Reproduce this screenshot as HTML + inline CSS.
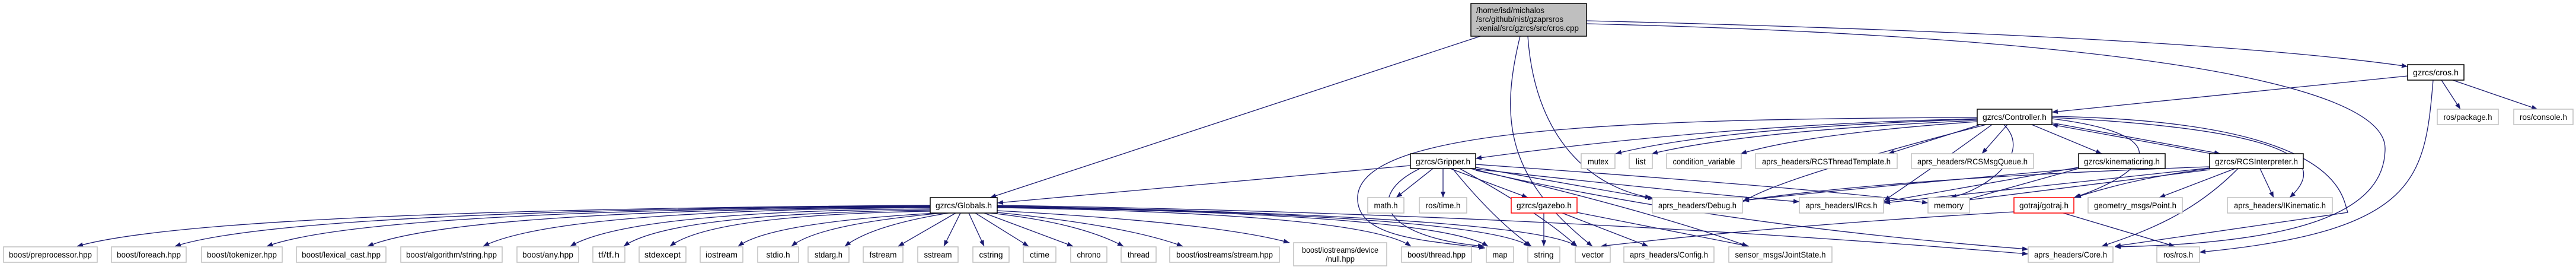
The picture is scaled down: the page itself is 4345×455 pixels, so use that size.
<!DOCTYPE html>
<html><head><meta charset="utf-8"><style>
html,body{margin:0;padding:0;background:#fff;width:4345px;height:455px;overflow:hidden}
svg{display:block}
text{font-family:"Liberation Sans",Arial,sans-serif;font-size:14px;fill:#000}
.e{fill:none;stroke:#191970;stroke-width:1.3}
.g rect{fill:#fff;stroke:#bfbfbf;stroke-width:1.5}
.b rect{fill:#fff;stroke:#000;stroke-width:1.5}
.r rect{fill:#fff;stroke:#ff0000;stroke-width:1.5}
</style></head><body>
<svg width="4345" height="455" viewBox="0 0 4345 455" xmlns="http://www.w3.org/2000/svg">
<defs><marker id="a" viewBox="0 0 10 8" refX="10" refY="4" markerWidth="10" markerHeight="8" markerUnits="userSpaceOnUse" orient="auto"><path d="M0,0 L10,4 L0,8 z" fill="#191970"/></marker></defs>
<g marker-end="url(#a)">
<!-- cpp edges -->
<path class="e" d="M2497,61 L1670,333"/>
<path class="e" d="M2676,35 Q3700,60 4061,112"/>
<path class="e" d="M2676,40 C3500,60 4023,130 4023,250 C4023,350 3900,410 3567,416"/>
<path class="e" d="M2564,61 C2530,200 2540,300 2686,415"/>
<path class="e" d="M2577,61 C2590,250 2700,320 2785,333"/>
<!-- Globals edges -->
<path class="e" d="M1569,346 Q346,354 130,415"/>
<path class="e" d="M1569,347 Q486,354 295,415"/>
<path class="e" d="M1569,348 Q618,354 450,415"/>
<path class="e" d="M1569,349 Q771,354 620,415"/>
<path class="e" d="M1569,350 Q937,354 815,415"/>
<path class="e" d="M1569,352 Q1062,356 962,415"/>
<path class="e" d="M1569,354 Q1130,360 1052,415"/>
<path class="e" d="M1569,356 Q1200,362 1130,415"/>
<path class="e" d="M1580,359 Q1300,375 1245,415"/>
<path class="e" d="M1590,359 Q1380,378 1335,415"/>
<path class="e" d="M1600,359 Q1470,380 1425,415"/>
<path class="e" d="M1612,359 L1515,415"/>
<path class="e" d="M1620,359 L1592,415"/>
<path class="e" d="M1634,359 L1660,415"/>
<path class="e" d="M1645,359 L1735,415"/>
<path class="e" d="M1660,359 L1810,415"/>
<path class="e" d="M1670,359 Q1820,375 1895,415"/>
<path class="e" d="M1682,358 Q1900,380 1995,415"/>
<path class="e" d="M1682,355 Q2050,375 2175,409"/>
<path class="e" d="M1682,350 Q2300,360 2380,415"/>
<path class="e" d="M1682,349 Q2420,360 2510,415"/>
<path class="e" d="M1682,348 Q2500,362 2580,415"/>
<path class="e" d="M1682,347 Q2580,364 2660,415"/>
<path class="e" d="M1682,346 Q2600,360 3421,428"/>
<!-- Gripper edges -->
<path class="e" d="M2379,279 L1682,342"/>
<path class="e" d="M2417,284 L2355,333"/>
<path class="e" d="M2434,284 L2434,333"/>
<path class="e" d="M2446,284 L2577,333"/>
<path class="e" d="M2489,282 Q2700,320 2790,335"/>
<path class="e" d="M2489,285 Q2900,330 3035,340"/>
<path class="e" d="M2489,277 Q3100,320 3252,342"/>
<path class="e" d="M2395,284 C2300,330 2330,400 2503,415"/>
<path class="e" d="M2450,284 Q2520,370 2583,415"/>
<path class="e" d="M2462,284 Q2600,360 2660,415"/>
<path class="e" d="M2489,287 Q2900,380 3421,420"/>
<path class="e" d="M2480,284 Q2800,360 2948,415"/>
<!-- gazebo -->
<path class="e" d="M2604,359 L2604,415"/>
<path class="e" d="M2635,359 L2780,415"/>
<path class="e" d="M2660,358 L2950,415"/>
<!-- Controller -->
<path class="e" d="M3335,200 Q2900,210 2489,267"/>
<path class="e" d="M3335,201 Q2900,215 2725,259"/>
<path class="e" d="M3335,203 Q2950,220 2786,259"/>
<path class="e" d="M3335,205 Q3050,225 2936,259"/>
<path class="e" d="M3340,210 L3185,259"/>
<path class="e" d="M3386,210 L3343,259"/>
<path class="e" d="M3427,210 L3545,259"/>
<path class="e" d="M3461,207 L3745,259"/>
<path class="e" d="M3730,259 L3461,210"/>
<path class="e" d="M3335,198 C2700,200 2300,220 2290,330 C2285,400 2400,405 2505,418"/>
<path class="e" d="M3350,210 Q3000,300 2940,340"/>
<path class="e" d="M3360,210 Q3250,290 3178,338"/>
<path class="e" d="M3380,210 C3430,260 3350,320 3290,333"/>
<path class="e" d="M3461,200 C3700,230 3600,300 3498,333"/>
<path class="e" d="M3461,198 C3900,220 3920,280 3862,333"/>
<path class="e" d="M3461,196 C3950,205 3950,330 3960,358 L3567,415"/>
<!-- kinematicring -->
<path class="e" d="M3506,284 Q3100,320 2940,338"/>
<path class="e" d="M3506,282 L3178,340"/>
<path class="e" d="M3506,284 L3312,338"/>
<!-- RCSInterpreter -->
<path class="e" d="M3727,281 Q3200,300 2940,338"/>
<path class="e" d="M3727,283 L3178,342"/>
<path class="e" d="M3727,286 L3312,338"/>
<path class="e" d="M3775,284 C3700,360 3620,390 3545,415"/>
<path class="e" d="M3770,284 L3642,333"/>
<path class="e" d="M3812,284 L3835,333"/>
<path class="e" d="M3727,284 Q3600,300 3500,333"/>
<!-- gotraj -->
<path class="e" d="M3480,359 L3668,415"/>
<path class="e" d="M3397,357 Q3000,380 2700,415"/>
<!-- cros.h -->
<path class="e" d="M4061,128 L3461,189"/>
<path class="e" d="M4118,135 L4150,184"/>
<path class="e" d="M4137,135 L4280,184"/>
<path class="e" d="M4104,135 C4090,300 4080,390 3710,425"/>
</g>

<!-- root node -->
<rect x="2481" y="6" width="195" height="55" fill="#bfbfbf" stroke="#000" stroke-width="1.5"/>
<text x="2490" y="22" textLength="115" lengthAdjust="spacingAndGlyphs">/home/isd/michalos</text>
<text x="2490" y="37" textLength="147" lengthAdjust="spacingAndGlyphs">/src/github/nist/gzaprsros</text>
<text x="2490" y="52" textLength="173" lengthAdjust="spacingAndGlyphs">-xenial/src/gzrcs/src/cros.cpp</text>

<!-- internal nodes -->
<g class="b">
<rect x="1569" y="333" width="113" height="26"/><text x="1625.5" y="351" text-anchor="middle" textLength="95" lengthAdjust="spacingAndGlyphs">gzrcs/Globals.h</text>
<rect x="2379" y="259" width="110" height="25"/><text x="2434" y="277" text-anchor="middle" textLength="92" lengthAdjust="spacingAndGlyphs">gzrcs/Gripper.h</text>
<rect x="3335" y="184" width="126" height="26"/><text x="3398" y="202" text-anchor="middle" textLength="108" lengthAdjust="spacingAndGlyphs">gzrcs/Controller.h</text>
<rect x="4061" y="109" width="95" height="26"/><text x="4108.5" y="127" text-anchor="middle" textLength="77" lengthAdjust="spacingAndGlyphs">gzrcs/cros.h</text>
<rect x="3506" y="259" width="146" height="25"/><text x="3579" y="277" text-anchor="middle" textLength="128" lengthAdjust="spacingAndGlyphs">gzrcs/kinematicring.h</text>
<rect x="3727" y="259" width="158" height="25"/><text x="3806" y="277" text-anchor="middle" textLength="140" lengthAdjust="spacingAndGlyphs">gzrcs/RCSInterpreter.h</text>
</g>
<g class="r">
<rect x="2549" y="333" width="111" height="26"/><text x="2604.5" y="351" text-anchor="middle" textLength="93" lengthAdjust="spacingAndGlyphs">gzrcs/gazebo.h</text>
<rect x="3397" y="333" width="101" height="26"/><text x="3447.5" y="351" text-anchor="middle" textLength="83" lengthAdjust="spacingAndGlyphs">gotraj/gotraj.h</text>
</g>

<!-- leaf nodes -->
<g class="g">
<rect x="6" y="416" width="158" height="26"/><text x="85" y="434" text-anchor="middle" textLength="140" lengthAdjust="spacingAndGlyphs">boost/preprocessor.hpp</text>
<rect x="188" y="416" width="126" height="26"/><text x="251" y="434" text-anchor="middle" textLength="108" lengthAdjust="spacingAndGlyphs">boost/foreach.hpp</text>
<rect x="340" y="416" width="136" height="26"/><text x="408" y="434" text-anchor="middle" textLength="118" lengthAdjust="spacingAndGlyphs">boost/tokenizer.hpp</text>
<rect x="500" y="416" width="151" height="26"/><text x="575.5" y="434" text-anchor="middle" textLength="133" lengthAdjust="spacingAndGlyphs">boost/lexical_cast.hpp</text>
<rect x="676" y="416" width="171" height="26"/><text x="761.5" y="434" text-anchor="middle" textLength="153" lengthAdjust="spacingAndGlyphs">boost/algorithm/string.hpp</text>
<rect x="872" y="416" width="104" height="26"/><text x="924" y="434" text-anchor="middle" textLength="86" lengthAdjust="spacingAndGlyphs">boost/any.hpp</text>
<rect x="1000" y="416" width="54" height="26"/><text x="1027" y="434" text-anchor="middle" textLength="36" lengthAdjust="spacingAndGlyphs">tf/tf.h</text>
<rect x="1078" y="416" width="79" height="26"/><text x="1117.5" y="434" text-anchor="middle" textLength="61" lengthAdjust="spacingAndGlyphs">stdexcept</text>
<rect x="1181" y="416" width="72" height="26"/><text x="1217" y="434" text-anchor="middle" textLength="54" lengthAdjust="spacingAndGlyphs">iostream</text>
<rect x="1278" y="416" width="69" height="26"/><text x="1312.5" y="434" text-anchor="middle" textLength="40" lengthAdjust="spacingAndGlyphs">stdio.h</text>
<rect x="1363" y="416" width="69" height="26"/><text x="1397.5" y="434" text-anchor="middle" textLength="47" lengthAdjust="spacingAndGlyphs">stdarg.h</text>
<rect x="1456" y="416" width="67" height="26"/><text x="1489.5" y="434" text-anchor="middle" textLength="46" lengthAdjust="spacingAndGlyphs">fstream</text>
<rect x="1548" y="416" width="68" height="26"/><text x="1582" y="434" text-anchor="middle" textLength="47" lengthAdjust="spacingAndGlyphs">sstream</text>
<rect x="1641" y="416" width="61" height="26"/><text x="1671.5" y="434" text-anchor="middle" textLength="40" lengthAdjust="spacingAndGlyphs">cstring</text>
<rect x="1726" y="416" width="55" height="26"/><text x="1753.5" y="434" text-anchor="middle" textLength="33" lengthAdjust="spacingAndGlyphs">ctime</text>
<rect x="1806" y="416" width="61" height="26"/><text x="1836.5" y="434" text-anchor="middle" textLength="40" lengthAdjust="spacingAndGlyphs">chrono</text>
<rect x="1891" y="416" width="59" height="26"/><text x="1920.5" y="434" text-anchor="middle" textLength="37" lengthAdjust="spacingAndGlyphs">thread</text>
<rect x="1973" y="416" width="185" height="26"/><text x="2065.5" y="434" text-anchor="middle" textLength="163" lengthAdjust="spacingAndGlyphs">boost/iostreams/stream.hpp</text>
<rect x="2182" y="409" width="157" height="39"/><text x="2260.5" y="426" text-anchor="middle" textLength="129" lengthAdjust="spacingAndGlyphs">boost/iostreams/device</text><text x="2260.5" y="441" text-anchor="middle" textLength="49" lengthAdjust="spacingAndGlyphs">/null.hpp</text>
<rect x="2364" y="416" width="118" height="26"/><text x="2423" y="434" text-anchor="middle" textLength="98" lengthAdjust="spacingAndGlyphs">boost/thread.hpp</text>
<rect x="2507" y="416" width="46" height="26"/><text x="2530" y="434" text-anchor="middle" textLength="25" lengthAdjust="spacingAndGlyphs">map</text>
<rect x="2577" y="416" width="54" height="26"/><text x="2604" y="434" text-anchor="middle" textLength="33" lengthAdjust="spacingAndGlyphs">string</text>
<rect x="2657" y="416" width="59" height="26"/><text x="2686.5" y="434" text-anchor="middle" textLength="37" lengthAdjust="spacingAndGlyphs">vector</text>
<rect x="2739" y="416" width="152" height="26"/><text x="2815" y="434" text-anchor="middle" textLength="132" lengthAdjust="spacingAndGlyphs">aprs_headers/Config.h</text>
<rect x="2916" y="416" width="174" height="26"/><text x="3003" y="434" text-anchor="middle" textLength="153" lengthAdjust="spacingAndGlyphs">sensor_msgs/JointState.h</text>
<rect x="3421" y="416" width="143" height="26"/><text x="3492.5" y="434" text-anchor="middle" textLength="123" lengthAdjust="spacingAndGlyphs">aprs_headers/Core.h</text>
<rect x="3638" y="416" width="72" height="26"/><text x="3674" y="434" text-anchor="middle" textLength="50" lengthAdjust="spacingAndGlyphs">ros/ros.h</text>

<rect x="2307" y="333" width="61" height="26"/><text x="2337.5" y="351" text-anchor="middle" textLength="40" lengthAdjust="spacingAndGlyphs">math.h</text>
<rect x="2394" y="333" width="80" height="26"/><text x="2434" y="351" text-anchor="middle" textLength="59" lengthAdjust="spacingAndGlyphs">ros/time.h</text>
<rect x="2787" y="333" width="152" height="26"/><text x="2863" y="351" text-anchor="middle" textLength="132" lengthAdjust="spacingAndGlyphs">aprs_headers/Debug.h</text>
<rect x="3035" y="333" width="142" height="26"/><text x="3106" y="351" text-anchor="middle" textLength="121" lengthAdjust="spacingAndGlyphs">aprs_headers/IRcs.h</text>
<rect x="3252" y="333" width="70" height="26"/><text x="3287" y="351" text-anchor="middle" textLength="50" lengthAdjust="spacingAndGlyphs">memory</text>
<rect x="3522" y="333" width="159" height="26"/><text x="3601.5" y="351" text-anchor="middle" textLength="139" lengthAdjust="spacingAndGlyphs">geometry_msgs/Point.h</text>
<rect x="3757" y="333" width="177" height="26"/><text x="3845.5" y="351" text-anchor="middle" textLength="155" lengthAdjust="spacingAndGlyphs">aprs_headers/IKinematic.h</text>

<rect x="2667" y="259" width="57" height="25"/><text x="2695.5" y="277" text-anchor="middle" textLength="35" lengthAdjust="spacingAndGlyphs">mutex</text>
<rect x="2748" y="259" width="39" height="25"/><text x="2767.5" y="277" text-anchor="middle" textLength="17" lengthAdjust="spacingAndGlyphs">list</text>
<rect x="2811" y="259" width="126" height="25"/><text x="2874" y="277" text-anchor="middle" textLength="105" lengthAdjust="spacingAndGlyphs">condition_variable</text>
<rect x="2961" y="259" width="239" height="25"/><text x="3080.5" y="277" text-anchor="middle" textLength="217" lengthAdjust="spacingAndGlyphs">aprs_headers/RCSThreadTemplate.h</text>
<rect x="3224" y="259" width="206" height="25"/><text x="3327" y="277" text-anchor="middle" textLength="186" lengthAdjust="spacingAndGlyphs">aprs_headers/RCSMsgQueue.h</text>

<rect x="4111" y="184" width="103" height="26"/><text x="4162.5" y="202" text-anchor="middle" textLength="82" lengthAdjust="spacingAndGlyphs">ros/package.h</text>
<rect x="4240" y="184" width="100" height="26"/><text x="4290" y="202" text-anchor="middle" textLength="80" lengthAdjust="spacingAndGlyphs">ros/console.h</text>
</g>
</svg>
</body></html>
